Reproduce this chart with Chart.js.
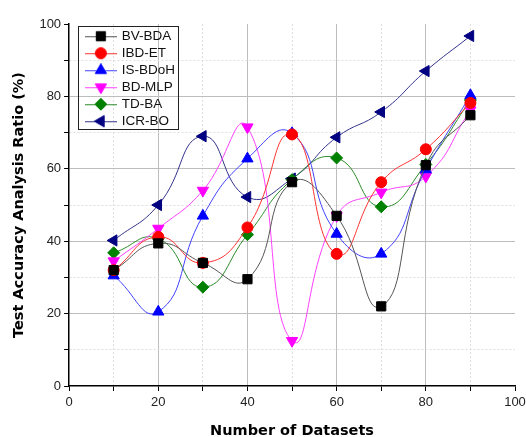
<!DOCTYPE html>
<html><head><meta charset="utf-8">
<script src="https://cdn.jsdelivr.net/npm/chart.js@4"></script>
<style>html,body{margin:0;padding:0;background:#fff}#wrap{width:526px;height:437px}</style>
</head><body><div id="wrap"><canvas id="c" width="526" height="437"></canvas></div>
<script>
const datasetsX = [10, 20, 30, 40, 50, 60, 70, 80, 90];
const bvBda  = [32, 39.4, 34, 29.5, 56.3, 47, 22, 61, 74.8];
const ibdEt  = [32, 41.2, 34, 43.8, 69.5, 36.5, 56.3, 65.4, 78.2];
const isBdoh = [30.5, 20.5, 47, 62.8, 69.8, 42, 36.5, 59.8, 80.3];
const bdMlp  = [34.5, 43.5, 54, 71.5, 12.5, 47, 53.5, 57.9, 76.2];
const tdBa   = [36.8, 40.7, 27.3, 41.8, 57, 63, 49.5, 61.2, 79];
const icrBo  = [40.2, 50, 69, 52.2, 57.3, 68.7, 75.7, 87, 96.7];
const seriesNames = ['BV-BDA', 'IBD-ET', 'IS-BDoH', 'BD-MLP', 'TD-BA', 'ICR-BO'];
const xTickLabels = [0, 20, 40, 60, 80, 100];
const yTickLabels = [0, 20, 40, 60, 80, 100];

const styles = [
  {line:'#555', fill:'#000', shape:'rect', r:6.5, rot:0},
  {line:'#ff3030', fill:'#ff0000', shape:'circle', r:5.5, rot:0},
  {line:'#4040ff', fill:'#0000ff', shape:'triangle', r:6.5, rot:0},
  {line:'#ff40ff', fill:'#ff00ff', shape:'triangle', r:6.5, rot:180},
  {line:'#2a8a2a', fill:'#008000', shape:'rectRot', r:6, rot:0},
  {line:'#33338a', fill:'#000080', shape:'triangle', r:6.5, rot:-90}
];
const values = [bvBda, ibdEt, isBdoh, bdMlp, tdBa, icrBo];

function legendIcon(s){
  const c = document.createElement('canvas');
  c.width = 32; c.height = 14;
  const g = c.getContext('2d');
  g.strokeStyle = s.line; g.lineWidth = 1;
  g.beginPath(); g.moveTo(0, 7.5); g.lineTo(32, 7.5); g.stroke();
  g.fillStyle = s.fill; g.strokeStyle = s.fill;
  Chart.helpers.drawPoint(g, {pointStyle:s.shape, radius:s.r, rotation:s.rot, borderWidth:1}, 16, 7);
  return c;
}

const datasets = seriesNames.map((n, i) => ({
  label: n,
  data: datasetsX.map((x, j) => ({x: x, y: values[i][j]})),
  borderColor: styles[i].line,
  borderWidth: 1,
  backgroundColor: styles[i].fill,
  pointStyle: styles[i].shape,
  pointRotation: styles[i].rot,
  pointRadius: styles[i].r,
  pointHoverRadius: styles[i].r,
  pointBackgroundColor: styles[i].fill,
  pointBorderColor: styles[i].fill,
  pointBorderWidth: 1,
  tension: 0.5,
  fill: false
}));

const legendMove = {
  id: 'legendMove',
  afterLayout(chart){
    const l = chart.legend;
    l.left = chart.chartArea.left + 14;
    l.top = chart.chartArea.top + 2;
  },
  afterDraw(chart){
    const l = chart.legend; const g = chart.ctx;
    const n = chart.data.datasets.length;
    g.save(); g.strokeStyle = '#222'; g.lineWidth = 1;
    g.strokeRect(Math.round(l.left) - 5 + 0.5, Math.round(l.top) + 0.5, 100, n * 17 + 1);
    g.restore();
  }
};

const gridColor = ctx => {
  const v = ctx.tick ? ctx.tick.value : 0;
  if (v === 0 || v === 100) return 'rgba(0,0,0,0)';
  return v % 20 === 0 ? '#bdbdbd' : '#dedede';
};
const gridDash = ctx => (ctx.tick && ctx.tick.value % 20 !== 0) ? [2, 2] : [];

new Chart(document.getElementById('c'), {
  type: 'line',
  data: { datasets },
  options: {
    responsive: false,
    animation: false,
    layout: { padding: { top: 24, right: 0, left: 11, bottom: 0 } },
    plugins: {
      tooltip: { enabled: false },
      legend: {
        position: 'chartArea',
        align: 'start',
        labels: {
          usePointStyle: true,
          pointStyleWidth: 28.5,
          boxHeight: 13.5,
          padding: 3.5,
          color: '#111',
          font: { family: 'Liberation Sans', size: 13.5 },
          generateLabels(chart){
            return chart.data.datasets.map((d, i) => ({
              text: d.label, pointStyle: legendIcon(styles[i]),
              fillStyle: styles[i].fill, strokeStyle: styles[i].fill, lineWidth: 0,
              hidden: false, datasetIndex: i, fontColor: '#111'
            }));
          }
        }
      }
    },
    scales: {
      x: {
        type: 'linear', min: 0, max: 100,
        afterFit(scale){ scale.paddingRight = 11; },
        ticks: { stepSize: 10, autoSkip: false, maxRotation: 0, color: '#222', padding: 4,
          font: { family: 'Liberation Sans', size: 13 },
          callback: v => xTickLabels.includes(v) ? String(v) : '' },
        grid: { color: gridColor, tickColor: '#000', tickLength: 5, lineWidth: 1 },
        border: { color: '#000', width: 1.5, dash: gridDash },
        title: { display: true, text: 'Number of Datasets', color: '#000',
          font: { family: 'DejaVu Sans', weight: 'bold', size: 14.5 }, padding: { top: 8, bottom: -3 } }
      },
      y: {
        type: 'linear', min: 0, max: 100,
        ticks: { stepSize: 10, autoSkip: false, color: '#222', padding: 3,
          font: { family: 'Liberation Sans', size: 13 },
          callback: v => yTickLabels.includes(v) ? String(v) : '' },
        grid: { color: gridColor, tickColor: '#000', tickLength: 5, lineWidth: 1 },
        border: { color: '#000', width: 1.5, dash: gridDash },
        title: { display: true, text: 'Test Accuracy Analysis Ratio (%)', color: '#000',
          font: { family: 'DejaVu Sans', weight: 'bold', size: 14.5 }, padding: { top: 0, bottom: 8 } }
      }
    }
  },
  plugins: [legendMove]
});
</script></body></html>
